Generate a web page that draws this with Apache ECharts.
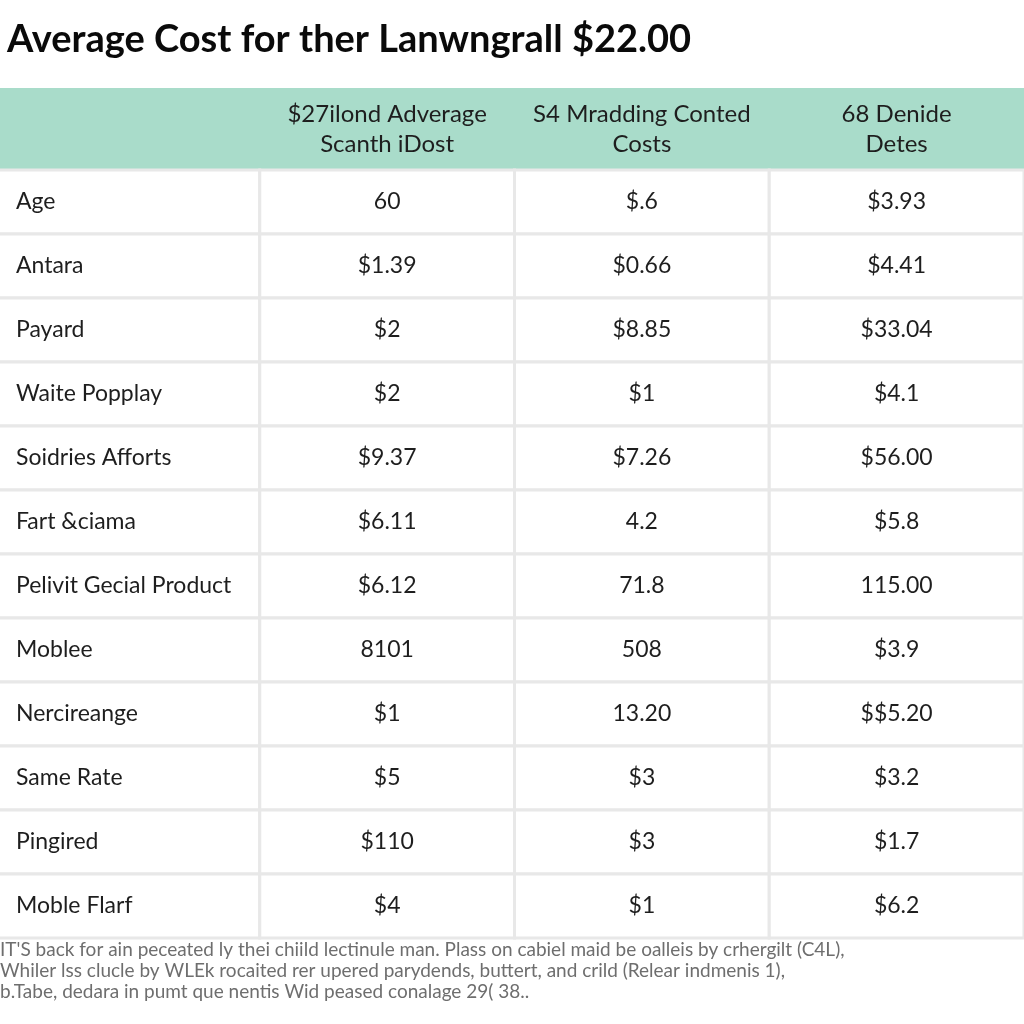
<!DOCTYPE html>
<html>
<head>
<meta charset="utf-8">
<script src="https://cdn.jsdelivr.net/npm/echarts@6/dist/echarts.min.js"></script>
<style>html,body{margin:0;padding:0;background:#fff;}#c{width:1024px;height:1024px;}</style>
</head>
<body>
<div id="c"></div>
<script>
const titleText = 'Average Cost for ther Lanwngrall $22.00';
const columnHeaders = ['', '$27ilond Adverage\nScanth iDost', 'S4 Mradding Conted\nCosts', '68 Denide\nDetes'];
const rowLabels = ['Age', 'Antara', 'Payard', 'Waite Popplay', 'Soidries Afforts', 'Fart \u0026ciama', 'Pelivit Gecial Product', 'Moblee', 'Nercireange', 'Same Rate', 'Pingired', 'Moble Flarf'];
const averageCost = ['60', '$1.39', '$2', '$2', '$9.37', '$6.11', '$6.12', '8101', '$1', '$5', '$110', '$4'];
const addingCost = ['$.6', '$0.66', '$8.85', '$1', '$7.26', '4.2', '71.8', '508', '13.20', '$3', '$3', '$1'];
const denideCost = ['$3.93', '$4.41', '$33.04', '$4.1', '$56.00', '$5.8', '115.00', '$3.9', '$$5.20', '$3.2', '$1.7', '$6.2'];
const footnoteLines = [
  "IT'S back for ain peceated ly thei chiild lectinule man. Plass on cabiel maid be oalleis by crhergilt (C4L),",
  'Whiler lss clucle by WLEk rocaited rer upered parydends, buttert, and crild (Relear indmenis 1),',
  'b.Tabe, dedara in pumt que nentis Wid peased conalage 29( 38..'
];

const columns = [rowLabels, averageCost, addingCost, denideCost];
const cellData = [];
columns.forEach((col, j) => col.forEach((txt, i) => cellData.push([j, i, txt])));

const chart = echarts.init(document.getElementById('c'), null, {renderer: 'canvas'});
chart.setOption({
  backgroundColor: '#ffffff',
  animation: false,
  title: {
    text: titleText, left: 2, top: 16,
    textStyle: {fontFamily: 'Lato', fontWeight: 'bold', fontSize: 38, color: '#0a0a0a'}
  },
  graphic: [
    {type: 'rect', z: -1, shape: {x: 0, y: 88, width: 1024, height: 82}, style: {fill: '#a9dcca'}},
    {type: 'text', left: 0, top: 939, style: {text: footnoteLines.join('\n'), fontFamily: 'Lato', fontSize: 19, lineHeight: 21, fill: '#6e6e6e'}}
  ],
  grid: {left: 5, right: -1, top: 170, bottom: 86},
  xAxis: {
    type: 'category', position: 'top', data: columnHeaders,
    axisLine: {show: false}, axisTick: {show: false},
    axisLabel: {fontFamily: 'Lato', fontSize: 24, color: '#1e1e1e', lineHeight: 30, margin: 11, interval: 0}
  },
  yAxis: {
    type: 'category', inverse: true, data: rowLabels,
    axisLine: {show: false}, axisTick: {show: false}, axisLabel: {show: false}
  },
  series: [{
    type: 'custom',
    data: cellData,
    renderItem: function (params, api) {
      const j = api.value(0), i = api.value(1);
      const c = api.coord([j, i]);
      const s = api.size([1, 1]);
      let x0 = c[0] - s[0] / 2, w = s[0];
      if (j === 0) { w += x0 + 2; x0 = -2; }
      const y0 = c[1] - s[1] / 2;
      const txt = cellData[params.dataIndex][2];
      return {
        type: 'group',
        children: [
          {type: 'rect', shape: {x: x0, y: y0, width: w, height: s[1]},
           style: {fill: '#ffffff', stroke: '#e8e8e8', lineWidth: 3}},
          {type: 'text', x: j === 0 ? 16 : c[0], y: c[1],
           style: {text: txt, fontFamily: 'Lato', fontSize: 23, fill: '#1e1e1e',
                   align: j === 0 ? 'left' : 'center', verticalAlign: 'middle'}}
        ]
      };
    }
  }]
});
</script>
</body>
</html>
